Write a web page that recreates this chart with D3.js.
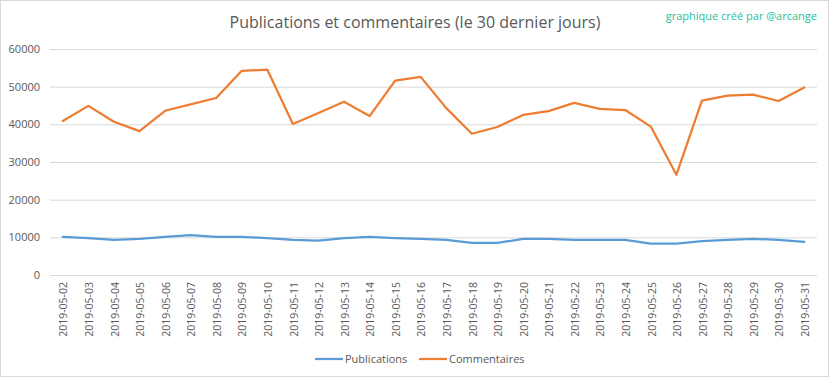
<!DOCTYPE html>
<html>
<head>
<meta charset="utf-8">
<script src="https://cdn.jsdelivr.net/npm/d3@7"></script>
<style>
  html, body { margin: 0; padding: 0; background: #fff; }
  svg { display: block; }
  text { font-family: "Open Sans", "Noto Sans", sans-serif; }
</style>
</head>
<body>
<svg id="chart" width="832" height="378"></svg>
<script>
const dates = ["2019-05-02","2019-05-03","2019-05-04","2019-05-05","2019-05-06","2019-05-07","2019-05-08","2019-05-09","2019-05-10","2019-05-11","2019-05-12","2019-05-13","2019-05-14","2019-05-15","2019-05-16","2019-05-17","2019-05-18","2019-05-19","2019-05-20","2019-05-21","2019-05-22","2019-05-23","2019-05-24","2019-05-25","2019-05-26","2019-05-27","2019-05-28","2019-05-29","2019-05-30","2019-05-31"];
const publications = [10100, 9800, 9300, 9600, 10100, 10600, 10100, 10100, 9800, 9300, 9100, 9800, 10100, 9800, 9600, 9300, 8500, 8500, 9600, 9600, 9300, 9300, 9300, 8300, 8300, 9000, 9300, 9600, 9300, 8800];
const commentaires = [40900, 44900, 40700, 38200, 43600, 45300, 47000, 54200, 54500, 40100, 43000, 46000, 42200, 51600, 52600, 44300, 37500, 39300, 42500, 43500, 45700, 44100, 43800, 39400, 26600, 46300, 47600, 47900, 46200, 49800];
const yTicks = [0, 10000, 20000, 30000, 40000, 50000, 60000];
const seriesNames = ["Publications", "Commentaires"];
const seriesColors = ["#5b9bd5", "#ed7d31"];
const titleText = "Publications et commentaires (le 30 dernier jours)";
const creditText = "graphique créé par @arcange";

const svg = d3.select("#chart");
const W = 832, H = 378;
const plot = { left: 50, right: 817, top: 49, bottom: 275 };

// border
svg.append("rect").attr("x", 0.5).attr("y", 0.5).attr("width", 828).attr("height", 376)
  .attr("fill", "#fff").attr("stroke", "#d9d9d9").attr("stroke-width", 1);

const x = d3.scaleBand().domain(dates).range([plot.left, plot.right]).paddingInner(0).paddingOuter(0);
const y = d3.scaleLinear().domain([0, 60000]).range([plot.bottom, plot.top]);
const cx = d => x(d) + x.bandwidth() / 2;

// gridlines + y labels
const yAxis = d3.axisLeft(y).tickValues(yTicks).tickSize(-(plot.right - plot.left)).tickPadding(10).tickFormat(d3.format("d"));
const yg = svg.append("g").attr("transform", `translate(${plot.left},0)`).call(yAxis);
yg.select(".domain").remove();
yg.selectAll(".tick line").attr("stroke", "#d9d9d9").attr("stroke-width", 1);
yg.selectAll(".tick text").attr("fill", "#595959").attr("font-size", "11px");

// x labels
const xAxis = d3.axisBottom(x).tickSize(0).tickPadding(0);
const xg = svg.append("g").attr("transform", `translate(0,${plot.bottom})`).call(xAxis);
xg.select(".domain").remove();
xg.selectAll(".tick text")
  .attr("fill", "#595959").attr("font-size", "10.5px")
  .attr("text-anchor", "end")
  .attr("transform", "translate(1,7) rotate(-90)")
  .attr("x", 0).attr("y", 0).attr("dy", "0.35em");

// lines
const series = [publications, commentaires];
series.forEach((vals, i) => {
  const line = d3.line().x((d, j) => cx(dates[j])).y(d => y(d));
  svg.append("path").datum(vals).attr("d", line)
    .attr("fill", "none").attr("stroke", seriesColors[i]).attr("stroke-width", 2.25)
    .attr("stroke-linejoin", "round").attr("stroke-linecap", "round");
});

// title
svg.append("text").attr("x", 415).attr("y", 28).attr("text-anchor", "middle")
  .attr("fill", "#595959").attr("font-size", "16px").text(titleText);

// credit
svg.append("text").attr("x", 817).attr("y", 20).attr("text-anchor", "end")
  .attr("fill", "#1fbf9f").attr("font-size", "11px").text(creditText);

// legend
const legendX = [315, 419];
seriesNames.forEach((name, i) => {
  const g = svg.append("g").attr("transform", `translate(${legendX[i]},359)`);
  g.append("line").attr("x1", 0).attr("x2", 28).attr("y1", 0).attr("y2", 0)
    .attr("stroke", seriesColors[i]).attr("stroke-width", 2.25);
  g.append("text").attr("x", 30).attr("y", 0).attr("dy", "0.35em")
    .attr("fill", "#595959").attr("font-size", "11px").text(name);
});
</script>
</body>
</html>
